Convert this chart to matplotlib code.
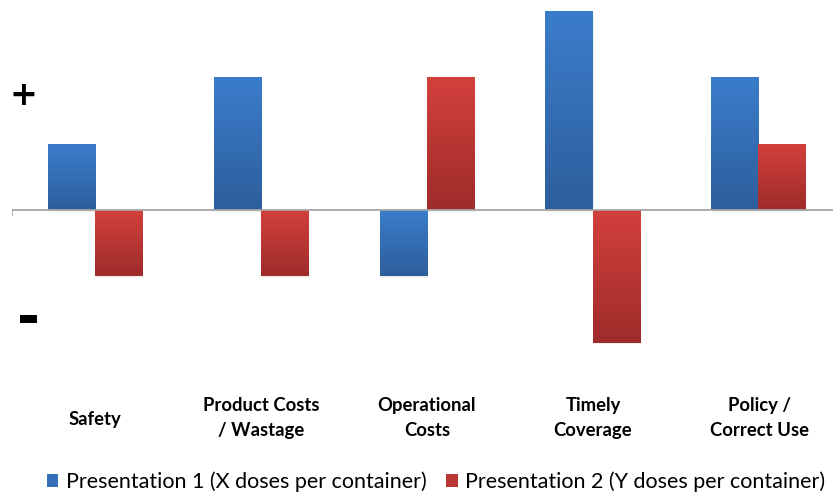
import numpy as np
import matplotlib.pyplot as plt
from matplotlib.patches import Patch
from matplotlib.colors import LinearSegmentedColormap

categories = ['Safety', 'Product Costs\n/ Wastage', 'Operational\nCosts',
              'Timely\nCoverage', 'Policy /\nCorrect Use']
pres1 = [1, 2, -1, 3, 2]
pres2 = [-1, -1, 2, -2, 1]
series_names = ['Presentation 1 (X doses per container)',
                'Presentation 2 (Y doses per container)']

blue_cmap = LinearSegmentedColormap.from_list('b', ['#2D5E9C', '#3B7DCB'])
red_cmap = LinearSegmentedColormap.from_list('r', ['#9E2C2A', '#D3403C'])

fig = plt.figure(figsize=(8.33, 4.96), dpi=100)
ax = fig.add_axes([12 / 833, 1 - 370 / 496, 1 - 12 / 833, 365 / 496])

x = np.arange(len(categories))
w = 0.284


def gradient_bars(xpos, vals, cmap):
    bars = ax.bar(xpos, vals, w, color='none', edgecolor='none', zorder=2)
    grad = np.linspace(0, 1, 256).reshape(-1, 1)
    for b in bars:
        x0, y0 = b.get_x(), b.get_y()
        bw, bh = b.get_width(), b.get_height()
        lo, hi = min(y0, y0 + bh), max(y0, y0 + bh)
        # faint drop shadow
        ax.add_patch(plt.Rectangle((x0 + 0.006, lo - 0.025), bw, hi - lo,
                                   color='#000000', alpha=0.06, lw=0, zorder=1))
        im = ax.imshow(grad, cmap=cmap, aspect='auto', origin='lower',
                       extent=[x0, x0 + bw, lo, hi], zorder=2)
        im.set_clip_path(b)
    return bars


gradient_bars(x - w / 2, pres1, blue_cmap)
gradient_bars(x + w / 2, pres2, red_cmap)

ax.axhline(0, color='#A6A6A6', lw=1.3, zorder=3)
ax.plot([-0.5, -0.5], [0, -0.07], color='#A6A6A6', lw=1.3, zorder=3)

ax.set_xlim(-0.5, 4.45)
ax.set_ylim((210 - 370) / 66.3, (210 - 5) / 66.3)
ax.axis('off')

# plus / minus markers on the value axis
ax.text(-0.43, 1.72, '+', fontsize=24, fontweight='bold', ha='center',
        va='center', family='DejaVu Sans')
ax.text(-0.4, -1.66, '-', fontsize=40, fontweight='bold', ha='center',
        va='center', family='DejaVu Sans')

for xi, lab in zip(x, categories):
    yv = 420 if '\n' not in lab else 418
    fig.text((12 + (xi + 0.5) * 166) / 833, 1 - yv / 496, lab,
             ha='center', va='center', fontsize=13.3, fontweight='bold',
             family='Lato', linespacing=1.55)

handles = [Patch(facecolor='#3570B8'), Patch(facecolor='#BC3733')]
leg = fig.legend(handles, series_names, loc='center', ncol=2,
                 bbox_to_anchor=(436 / 833, 1 - 482 / 496), frameon=False,
                 prop={'family': 'Lato', 'size': 15.5}, handlelength=0.55,
                 handleheight=0.55, handletextpad=0.35, columnspacing=0.9)

fig.savefig('out.png', dpi=100)
